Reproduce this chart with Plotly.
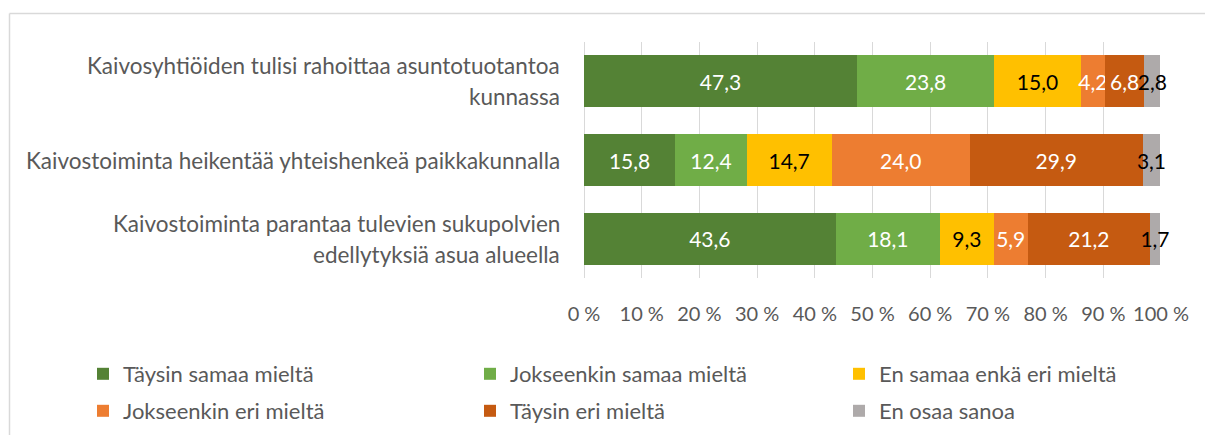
import plotly.graph_objects as go

categories = [
    "Kaivosyhtiöiden tulisi rahoittaa asuntotuotantoa<br>kunnassa",
    "Kaivostoiminta heikentää yhteishenkeä paikkakunnalla",
    "Kaivostoiminta parantaa tulevien sukupolvien<br>edellytyksiä asua alueella",
]
series_names = [
    "Täysin samaa mieltä",
    "Jokseenkin samaa mieltä",
    "En samaa enkä eri mieltä",
    "Jokseenkin eri mieltä",
    "Täysin eri mieltä",
    "En osaa sanoa",
]
taysin_samaa = [47.3, 15.8, 43.6]
jokseenkin_samaa = [23.8, 12.4, 18.1]
en_samaa_enka_eri = [15.0, 14.7, 9.3]
jokseenkin_eri = [4.2, 24.0, 5.9]
taysin_eri = [6.8, 29.9, 21.2]
en_osaa = [2.8, 3.1, 1.7]
series_values = [taysin_samaa, jokseenkin_samaa, en_samaa_enka_eri,
                 jokseenkin_eri, taysin_eri, en_osaa]
tick_vals = [0, 10, 20, 30, 40, 50, 60, 70, 80, 90, 100]
tick_text = ["0 %", "10 %", "20 %", "30 %", "40 %", "50 %", "60 %", "70 %",
             "80 %", "90 %", "100 %"]

colors = ["#548235", "#70AD47", "#FFC000", "#ED7D31", "#C55A11", "#AEAAAA"]
text_colors = ["white", "white", "black", "white", "white", "black"]

FONT = "Lato"
OFF = 8  # page body margin
W, H = 1213 - OFF, 435 - OFF
L, R = 584 - OFF, 1161 - OFF
T, B = 42 - OFF, 278 - OFF
pw, ph = R - L, B - T

def px_x(x):
    return (x - OFF - L) / pw

def px_y(y):
    return (B - (y - OFF)) / ph

# legend slots: 3 columns x 2 rows (reference pixel positions)
legend_cols = [83, 470, 839]
legend_rows = [374, 411]

fig = go.Figure()
legend_layout = {}
for i, (name, vals) in enumerate(zip(series_names, series_values)):
    lid = "legend" if i == 0 else f"legend{i + 1}"
    fig.add_trace(go.Bar(
        y=categories, x=vals, name=name, orientation="h",
        marker=dict(color=colors[i], line=dict(width=0)),
        text=[f"{v:.1f}".replace(".", ",") for v in vals],
        textposition="inside", insidetextanchor="middle",
        constraintext="none", textangle=0, cliponaxis=False,
        insidetextfont=dict(color=text_colors[i], size=21, family=FONT),
        legend=lid,
        hoverinfo="skip",
    ))
    legend_layout[lid] = dict(
        x=px_x(legend_cols[i % 3]), y=px_y(legend_rows[i // 3]),
        orientation="v", yanchor="middle", xanchor="left",
        font=dict(family=FONT, size=22, color="#595959"),
        bgcolor="rgba(0,0,0,0)",
        itemclick=False, itemdoubleclick=False,
    )

annotations = []
for c in categories:
    lines = c.split("<br>")
    n = len(lines)
    for j, ln in enumerate(lines):
        annotations.append(dict(
            x=px_x(562), xref="paper", xanchor="right",
            y=c, yref="y", yanchor="middle",
            yshift=((n - 1) / 2 - j) * 31,
            text=ln, showarrow=False, align="center",
            font=dict(family=FONT, size=22.5, color="#595959"),
        ))

fig.update_layout(
    width=W, height=H,
    margin=dict(l=L, r=W - R, t=T, b=H - B, autoexpand=False),
    barmode="stack", bargap=0.34,
    plot_bgcolor="white", paper_bgcolor="white",
    showlegend=True,
    xaxis=dict(
        range=[0, 100], tickvals=tick_vals, ticktext=tick_text,
        showgrid=True, gridcolor="#D9D9D9", gridwidth=1.3,
        zeroline=True, zerolinecolor="#D9D9D9", zerolinewidth=1.3,
        showline=False, ticks="outside", ticklen=18,
        tickcolor="rgba(0,0,0,0)",
        tickfont=dict(family=FONT, size=20, color="#595959"),
        fixedrange=True,
    ),
    yaxis=dict(
        autorange="reversed", showticklabels=False, showgrid=False,
        zeroline=False, showline=False, fixedrange=True,
    ),
    annotations=annotations,
    shapes=[
        dict(type="line", xref="paper", yref="paper",
             x0=px_x(9.5), x1=px_x(1213), y0=px_y(13.5), y1=px_y(13.5),
             line=dict(color="#D9D9D9", width=1.5)),
        dict(type="line", xref="paper", yref="paper",
             x0=px_x(9.5), x1=px_x(9.5), y0=px_y(13.5), y1=px_y(436),
             line=dict(color="#D9D9D9", width=1.5)),
    ],
    font=dict(family=FONT),
    **legend_layout,
)

fig.write_html("out.html")
